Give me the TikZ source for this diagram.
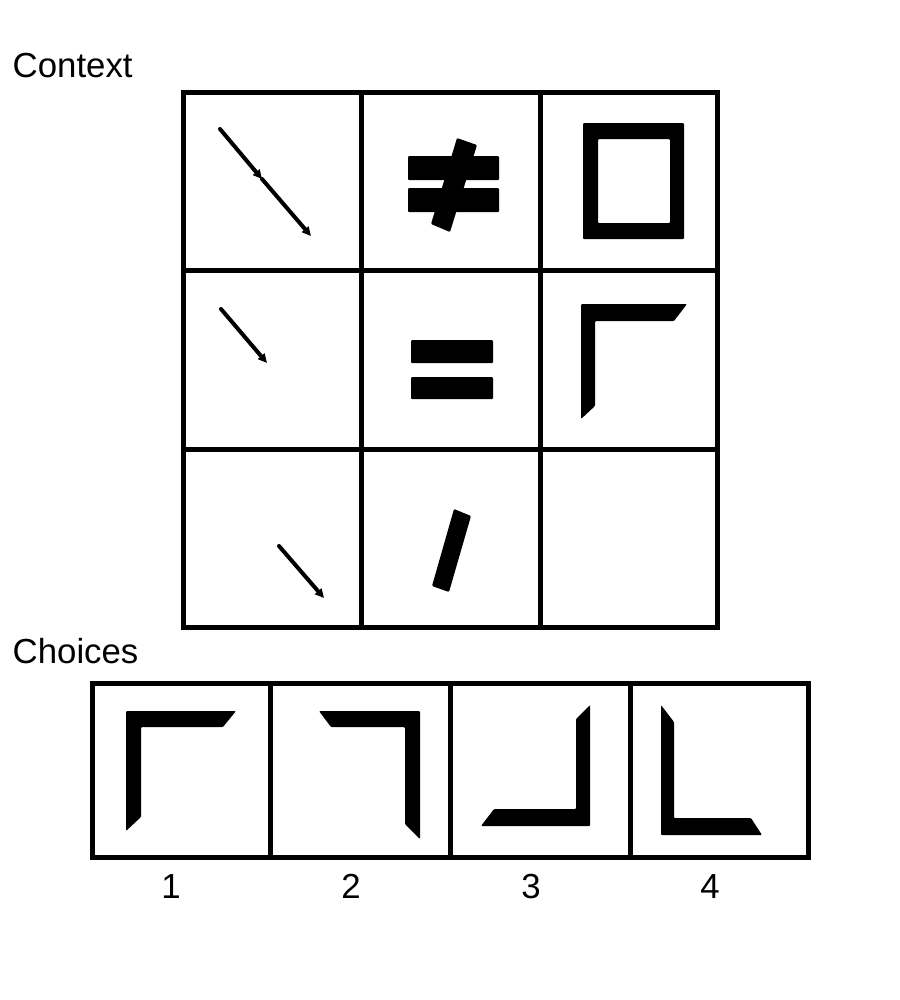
\documentclass[tikz,border=0pt]{standalone}
\usepackage{fontspec}
\setmainfont{Liberation Sans}
\usetikzlibrary{arrows.meta}

\begin{document}
\begin{tikzpicture}[x=0.1mm,y=-0.1mm,font=\fontsize{9.9}{11}\selectfont,>={Triangle[length=0.9mm,width=0.85mm]}]
    \tikzstyle{frame}=[line width=0.5mm]
    \tikzstyle{piece}=[fill=black,rounded corners=0.1mm]
    \tikzstyle{pointer}=[line width=0.4mm,line cap=round,->]
    \tikzstyle{heading}=[anchor=base west,inner sep=0pt]
    \tikzstyle{choicenum}=[anchor=base,inner sep=0pt]
    \useasboundingbox (0,0) rectangle (900,1000);
    \node[heading] (context) at (12,77) {Context};
    \node[heading] (choices) at (12,663) {Choices};
    % row 1
    \coordinate (p1a) at (220,129);
    \coordinate (p1m) at (262,179);
    \coordinate (p1b) at (311,236);
    \draw[pointer] (p1a) -- (p1m);
    \draw[pointer] (p1m) -- (p1b);
    \fill[piece] (408,156) rectangle (499,180);
    \fill[piece] (408,188) rectangle (499,212);
    \fill[piece] (457,138) -- (477,145) -- (450,232) -- (431,224) -- cycle;
    \fill[piece,even odd rule] (583,123) rectangle (684,239) (598,139) rectangle (670,223);
    % row 2
    \coordinate (p2a) at (221,309);
    \coordinate (p2b) at (267,363);
    \draw[pointer] (p2a) -- (p2b);
    \fill[piece] (411,340) rectangle (493,363);
    \fill[piece] (411,377) rectangle (493,399);
    \fill[piece] (581,304) -- (687,304) -- (674,321) -- (595,321) -- (595,406) -- (581,419) -- cycle;
    % row 3
    \coordinate (p3a) at (279,546);
    \coordinate (p3b) at (324,598);
    \draw[pointer] (p3a) -- (p3b);
    \fill[piece] (454,509) -- (471,516) -- (449,592) -- (432,586) -- cycle;
    % context grid
    \draw[frame] (183,92.5) rectangle (717.5,627);
    \draw[frame] (361,92.5) -- (361,627) (540,92.5) -- (540,627);
    \draw[frame] (183,270.5) -- (717.5,270.5) (183,449.5) -- (717.5,449.5);
    % choices
    \fill[piece] (126,711) -- (236,711) -- (223,727) -- (141,727) -- (141,817) -- (126,831) -- cycle;
    \fill[piece] (420,711) -- (319,711) -- (331,727) -- (405,727) -- (405,824) -- (420,839) -- cycle;
    \fill[piece] (590,826) -- (590,705) -- (576,719) -- (576,809) -- (494,809) -- (481,826) -- cycle;
    \fill[piece] (661,835) -- (661,705) -- (674,722) -- (674,818) -- (751,818) -- (762,835) -- cycle;
    \draw[frame] (92.5,683) rectangle (808,857);
    \draw[frame] (270.5,683) -- (270.5,857) (450.5,683) -- (450.5,857) (630.5,683) -- (630.5,857);
    \node[choicenum] (num1) at (171,898) {1};
    \node[choicenum] (num2) at (351,898) {2};
    \node[choicenum] (num3) at (531,898) {3};
    \node[choicenum] (num4) at (710,898) {4};
\end{tikzpicture}
\end{document}
